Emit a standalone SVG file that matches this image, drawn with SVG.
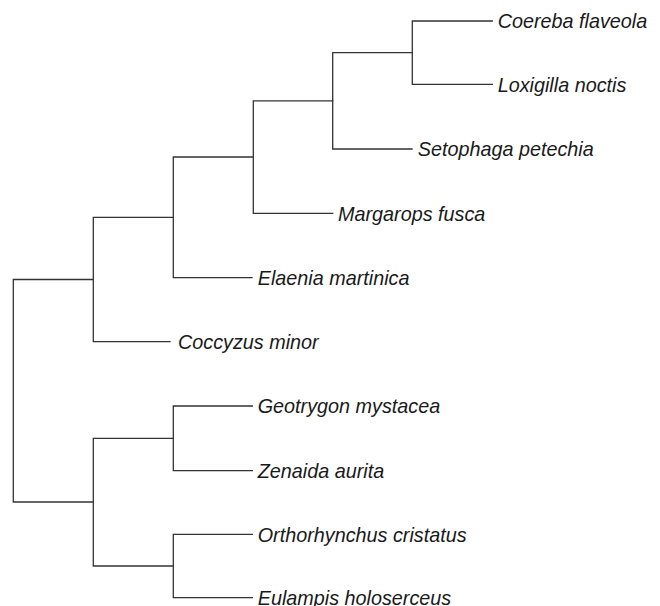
<svg xmlns="http://www.w3.org/2000/svg" width="660" height="606" viewBox="0 0 660 606">
<style>
.e{fill:none;stroke:#333;stroke-width:1.3;stroke-linecap:square}
.t{font-family:"Liberation Sans",Arial,sans-serif;font-style:italic;font-size:19.8px;fill:#1a1a1a}
</style>
<rect width="660" height="606" fill="#fff"/>
<g id="connectors">
<path class="e" d="M13.3,279.5V502M13.3,279.5H93.3M13.3,502H93.3"/>
<path class="e" d="M93.3,217.4V341.7M93.3,217.4H173.3M93.3,341.7H170"/>
<path class="e" d="M173.3,157V277.7M173.3,157H253.3M173.3,277.7H252"/>
<path class="e" d="M253.3,100.8V213.3M253.3,100.8H332.7M253.3,213.3H332.7"/>
<path class="e" d="M332.7,52.6V149M332.7,52.6H412.3M332.7,149H412"/>
<path class="e" d="M412.3,21V84.3M412.3,21H492.3M412.3,84.3H492.3"/>
<path class="e" d="M93.3,438.4V566M93.3,438.4H173.3M93.3,566H173.3"/>
<path class="e" d="M173.3,406V470.7M173.3,406H252.3M173.3,470.7H252.3"/>
<path class="e" d="M173.3,534.3V597.7M173.3,534.3H252.3M173.3,597.7H252.3"/>
</g>
<g id="coereba"><text class="t" x="497.7" y="28.3">Coereba flaveola</text></g>
<g id="loxigilla"><text class="t" x="497.7" y="91.6">Loxigilla noctis</text></g>
<g id="setophaga"><text class="t" x="417.7" y="156.3">Setophaga petechia</text></g>
<g id="margarops"><text class="t" x="338" y="220.6">Margarops fusca</text></g>
<g id="elaenia"><text class="t" x="257.7" y="285">Elaenia martinica</text></g>
<g id="coccyzus"><text class="t" x="178" y="349">Coccyzus minor</text></g>
<g id="geotrygon"><text class="t" x="257.7" y="413.3">Geotrygon mystacea</text></g>
<g id="zenaida"><text class="t" x="257.7" y="478">Zenaida aurita</text></g>
<g id="orthorhynchus"><text class="t" x="257.7" y="541.6">Orthorhynchus cristatus</text></g>
<g id="eulampis"><text class="t" x="257.7" y="605">Eulampis holoserceus</text></g>
</svg>
